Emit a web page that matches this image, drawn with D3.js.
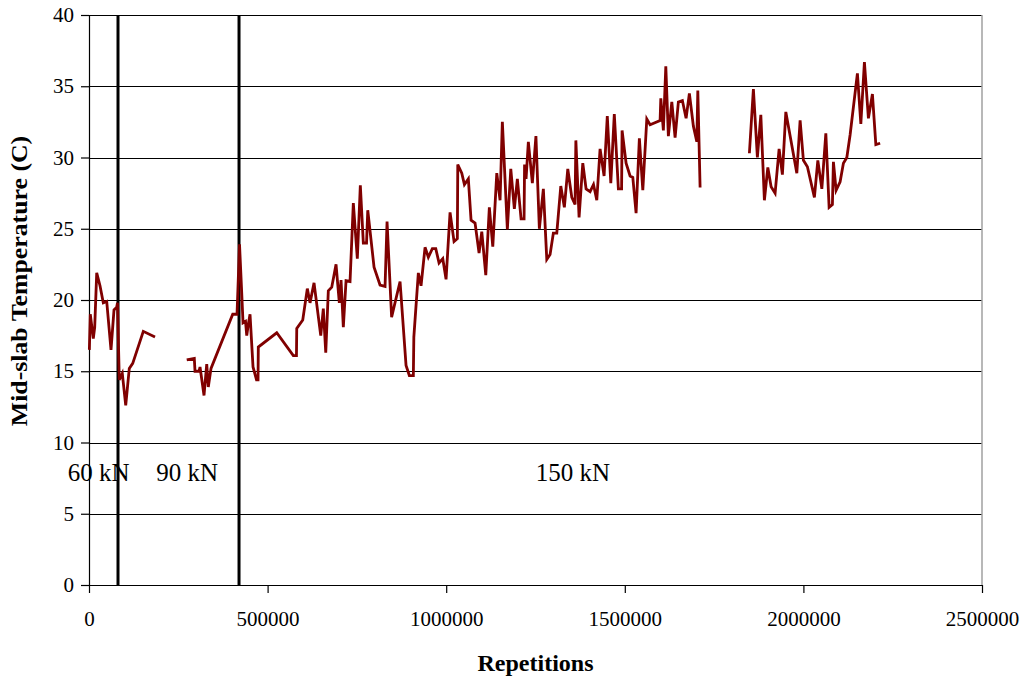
<!DOCTYPE html>
<html>
<head>
<meta charset="utf-8">
<script src="https://cdn.jsdelivr.net/npm/d3@7"></script>
<style>
  body { margin: 0; background: #fff; }
  text { font-family: "Liberation Serif", "Times New Roman", serif; fill: #000; }
</style>
</head>
<body>
<div id="chart"></div>
<script>
// mid-slab temperature readings, three runs of logging (gaps between them)
    var repsA = [1000, 3600, 12000, 16000, 21600, 30800, 40000, 49600, 61600, 70000, 77600, 79800,
                 84800, 93200, 102800, 112800, 122400, 152000, 184800];
    var tempA = [16.5, 19.0, 17.3, 18.1, 21.9, 21.0, 19.8, 19.9, 16.5, 19.3, 19.5, 19.8,
                 14.4, 14.85, 12.6, 15.2, 15.55, 17.8, 17.4];

    var repsB = [273600, 294800, 296800, 308000, 310800, 322000, 329600, 334000, 341600, 402400, 414400,
                 421400, 427000, 431200, 438200, 441600, 446000, 450800, 459200, 469000, 473200, 474000,
                 525600, 572000, 580800, 581600, 598400, 611200, 618800, 630000, 648800, 656000, 662800,
                 670000, 679600, 691600, 700800, 705600, 712000, 719600, 730800, 740000, 751200, 759600,
                 768000, 777000, 780400, 798000, 814800, 828800, 834400, 847200, 870800, 887600, 896800,
                 908000, 909400, 922000, 929600, 940800, 950000, 961200, 970800, 980000, 990400, 999600,
                 1010800, 1022000, 1031200, 1032400, 1043600, 1051000, 1062000, 1069600, 1080800, 1092000,
                 1099600, 1110800, 1120800, 1130400, 1141600, 1150800, 1157200, 1171200, 1180800, 1190800,
                 1199200, 1209600, 1218000, 1219400, 1223600, 1230000, 1241200, 1251200, 1260800, 1272000,
                 1281600, 1290800, 1300000, 1309600, 1320800, 1330800, 1340400, 1351600, 1360800, 1363000,
                 1372000, 1382400, 1391600, 1402800, 1412400, 1421600, 1430800, 1442000, 1451000, 1460800,
                 1470600, 1482000, 1491000, 1492400, 1503600, 1514800, 1522400, 1531600, 1540800, 1550400,
                 1561600, 1570800, 1598800, 1600800, 1608000, 1614800, 1622000, 1631600, 1640800, 1650000,
                 1661200, 1671600, 1680800, 1692000, 1701600, 1704400, 1710800];
    var tempB = [15.8, 15.9, 15.0, 15.0, 15.3, 13.3, 15.5, 13.9, 15.2, 19.0, 19.0,
                 23.9, 20.8, 18.4, 18.5, 17.5, 18.3, 19.0, 15.3, 14.4, 14.4, 16.7,
                 17.7, 16.1, 16.1, 18.0, 18.6, 20.8, 19.8, 21.2, 17.5, 19.4, 16.3,
                 20.65, 20.9, 22.5, 19.8, 21.4, 18.1, 21.35, 21.3, 26.8, 22.9, 28.05,
                 24.0, 24.0, 26.3, 22.3, 21.05, 20.95, 25.5, 18.8, 21.3, 15.4, 14.7,
                 14.7, 17.4, 21.9, 21.0, 23.7, 23.0, 23.6, 23.6, 22.6, 22.9, 21.45,
                 26.15, 24.1, 24.3, 29.5, 28.9, 28.1, 28.5, 25.6, 25.4, 23.3,
                 24.8, 21.75, 26.5, 23.75, 28.9, 27.0, 32.5, 24.96, 29.2, 26.4,
                 28.5, 25.7, 25.7, 29.5, 28.5, 31.1, 28.2, 31.5, 25.0, 27.8,
                 22.85, 23.2, 24.7, 24.7, 28.0, 26.5, 29.2, 27.2, 26.7, 31.2,
                 25.8, 29.6, 27.8, 27.6, 28.1, 27.0, 30.6, 28.7, 32.9, 28.2,
                 33.05, 27.8, 27.8, 31.9, 29.6, 28.7, 28.6, 26.1, 31.35, 27.7,
                 32.7, 32.3, 32.6, 34.15, 31.9, 36.4, 31.5, 33.9, 31.4, 33.9,
                 34.0, 32.75, 34.5, 32.2, 31.1, 34.7, 27.9];

    var repsC = [1848800, 1860000, 1871200, 1880800, 1890800, 1900400, 1909600, 1920800, 1932000, 1941200,
                 1950800, 1981600, 1990800, 2000000, 2011200, 2030800, 2040400, 2051600, 2062800, 2072000,
                 2081200, 2084000, 2091600, 2102800, 2112000, 2121600, 2130800, 2151200, 2160800, 2170800,
                 2182000, 2193200, 2202800, 2214800];
    var tempC = [30.3, 34.8, 30.0, 33.0, 27.0, 29.3, 27.95, 27.5, 30.6, 28.8,
                 33.2, 28.9, 32.6, 29.8, 29.35, 27.2, 29.8, 27.8, 31.7, 26.5,
                 26.7, 29.7, 27.7, 28.3, 29.6, 30.0, 31.6, 35.9, 32.35, 36.7,
                 32.75, 34.45, 30.9, 31.0];

// load steps: where the load changed, and where each load label sits
    var loadChanges = [81200, 420000];
    var loadLabels = ["60 kN", "90 kN", "150 kN"];
    var loadLabelReps = [27000, 275000, 1355000];
    var loadLabelTemp = 7.7;

// axis ticks
    var xTicks = [0, 500000, 1000000, 1500000, 2000000, 2500000];
    var yTicks = [0, 5, 10, 15, 20, 25, 30, 35, 40];

    var width = 1032;
    var height = 683;
    var margin = {top: 15, right: 50, bottom: 98, left: 89};

    var svg = d3.select("#chart")
        .append("svg")
        .attr("width", width)
        .attr("height", height);

    var x = d3.scaleLinear()
        .domain([0, 2500000])
        .range([margin.left, width - margin.right]);
    var y = d3.scaleLinear()
        .domain([0, 40])
        .range([height - margin.bottom, margin.top]);

// horizontal gridlines
    svg.append("g")
        .selectAll("line")
        .data(yTicks.slice(1))
        .enter()
        .append("line")
        .attr("x1", x(0))
        .attr("x2", x(2500000))
        .attr("y1", function (d) { return Math.round(y(d)) + 0.5; })
        .attr("y2", function (d) { return Math.round(y(d)) + 0.5; })
        .attr("stroke", "#000")
        .attr("stroke-width", 1);

// right border of the plot area
    svg.append("line")
        .attr("x1", x(2500000)).attr("x2", x(2500000))
        .attr("y1", y(40)).attr("y2", y(0))
        .attr("stroke", "#a0a0a0")
        .attr("stroke-width", 1.5);

// axes
    var xAxis = svg.append("g")
        .attr("transform", "translate(0," + y(0) + ")")
        .call(d3.axisBottom(x).tickValues(xTicks).tickFormat(d3.format("d")).tickSize(8).tickSizeOuter(0).tickPadding(18));
    var yAxis = svg.append("g")
        .attr("transform", "translate(" + x(0) + ",0)")
        .call(d3.axisLeft(y).tickValues(yTicks).tickSize(8).tickSizeOuter(0).tickPadding(7));

    svg.selectAll(".domain, .tick line").attr("stroke", "#000").attr("stroke-width", 1.2);
    svg.selectAll(".tick text")
        .style("font-family", "'Liberation Serif', serif")
        .style("font-size", "21px");

// load change markers
    svg.append("g")
        .selectAll("line")
        .data(loadChanges)
        .enter()
        .append("line")
        .attr("x1", function (d) { return x(d); })
        .attr("x2", function (d) { return x(d); })
        .attr("y1", y(40))
        .attr("y2", y(0))
        .attr("stroke", "#000")
        .attr("stroke-width", 3);

    svg.append("g")
        .selectAll("text")
        .data(loadLabels)
        .enter()
        .append("text")
        .attr("x", function (d, i) { return x(loadLabelReps[i]); })
        .attr("y", y(loadLabelTemp))
        .attr("text-anchor", "middle")
        .attr("dominant-baseline", "middle")
        .style("font-size", "25px")
        .text(function (d) { return d; });

// temperature line, one path per logging run
    var line = d3.line()
        .x(function (d) { return x(d[0]); })
        .y(function (d) { return y(d[1]); });

    var runs = [d3.zip(repsA, tempA), d3.zip(repsB, tempB), d3.zip(repsC, tempC)];
    svg.append("g")
        .selectAll("path")
        .data(runs)
        .enter()
        .append("path")
        .attr("d", line)
        .attr("fill", "none")
        .attr("stroke", "#800000")
        .attr("stroke-width", 2.8)
        .attr("stroke-linejoin", "miter");

// axis titles
    svg.append("text")
        .attr("x", (x(0) + x(2500000)) / 2)
        .attr("y", 671)
        .attr("text-anchor", "middle")
        .style("font-size", "24px")
        .style("font-weight", "bold")
        .text("Repetitions");

    // the y title runs a bit longer in the original, so stretch it along its length
    svg.append("text")
        .attr("transform", "translate(27,281) rotate(-90) scale(1.075,1)")
        .attr("text-anchor", "middle")
        .style("font-size", "24px")
        .style("font-weight", "bold")
        .text("Mid-slab Temperature (C)");
</script>
</body>
</html>
